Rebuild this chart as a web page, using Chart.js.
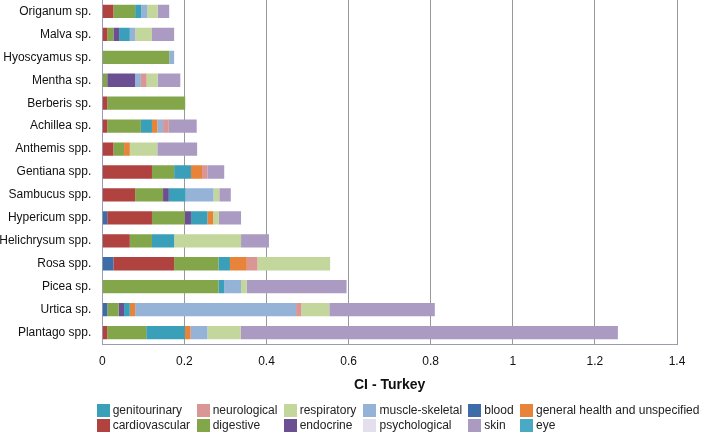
<!DOCTYPE html>
<html><head><meta charset="utf-8">
<script src="https://cdn.jsdelivr.net/npm/chart.js@4/dist/chart.umd.min.js"></script>
<style>
html,body{margin:0;padding:0;background:#fff;}
#wrap{position:relative;width:708px;height:433px;overflow:hidden;}
#legend{position:absolute;left:96.7px;top:403.5px;display:grid;grid-template-columns:100px 87px 79.8px 104.8px 51.7px auto;row-gap:1.5px;font:12px "Liberation Sans",Arial,sans-serif;color:#222;}
.li{display:flex;align-items:center;height:13.5px;white-space:nowrap;line-height:13.5px;}
.bx{width:13px;height:13.5px;margin-right:3px;flex:none;}
</style></head>
<body><div id="wrap"><canvas id="c" width="708" height="433"></canvas><div id="legend"></div></div>
<script>
const categories = ['Origanum sp.','Malva sp.','Hyoscyamus sp.','Mentha sp.','Berberis sp.','Achillea sp.','Anthemis spp.','Gentiana spp.','Sambucus spp.','Hypericum spp.','Helichrysum spp.','Rosa spp.','Picea sp.','Urtica sp.','Plantago spp.'];

const blood          = [0,     0,     0,     0,     0,     0,     0,     0,     0,     0.012, 0,     0.027, 0,     0.012, 0];
const cardiovascular = [0.027, 0.012, 0,     0,     0.012, 0.012, 0.027, 0.121, 0.080, 0.109, 0.067, 0.148, 0,     0,     0.012];
const digestive      = [0.053, 0.015, 0.163, 0.012, 0.190, 0.082, 0.026, 0.054, 0.068, 0.080, 0.054, 0.108, 0.283, 0.028, 0.095];
const endocrine      = [0,     0.014, 0,     0.068, 0,     0,     0,     0,     0.014, 0.015, 0,     0,     0,     0.013, 0];
const eye            = [0,     0,     0,     0,     0,     0,     0,     0,     0,     0,     0,     0,     0,     0,     0];
const genitourinary  = [0.015, 0.026, 0,     0,     0,     0.027, 0,     0.041, 0.041, 0.040, 0.054, 0.028, 0.014, 0.014, 0.094];
const generalHealth  = [0,     0,     0,     0,     0,     0.013, 0.014, 0.027, 0,     0.014, 0,     0.041, 0,     0.013, 0.014];
const muscleSkeletal = [0.014, 0.013, 0.012, 0.014, 0,     0.014, 0,     0,     0.068, 0,     0,     0,     0.041, 0.392, 0.041];
const neurological   = [0,     0,     0,     0.014, 0,     0.014, 0,     0.013, 0,     0,     0,     0.026, 0,     0.013, 0];
const psychological  = [0,     0,     0,     0,     0,     0,     0,     0,     0,     0,     0,     0,     0,     0,     0];
const respiratory    = [0.026, 0.041, 0,     0.027, 0,     0,     0.067, 0,     0.014, 0.014, 0.163, 0.177, 0.014, 0.068, 0.081];
const skin           = [0.028, 0.054, 0,     0.055, 0,     0.068, 0.097, 0.041, 0.028, 0.054, 0.068, 0,     0.243, 0.257, 0.919];

const xTickLabels = ['0','0.2','0.4','0.6','0.8','1','1.2','1.4'];
const axisTitle = 'CI - Turkey';

const seriesNames  = ['blood','cardiovascular','digestive','endocrine','eye','genitourinary','general health and unspecified','muscle-skeletal','neurological','psychological','respiratory','skin'];
const seriesValues = [blood, cardiovascular, digestive, endocrine, eye, genitourinary, generalHealth, muscleSkeletal, neurological, psychological, respiratory, skin];
const seriesColors = ['#3d6ca8','#b0423f','#84a64a','#6c4f92','#4aaac4','#3a9fb9','#e8833a','#95b3d7','#d99694','#e4dfec','#c3d69b','#ab9ac2'];
const legendOrder  = ['genitourinary','neurological','respiratory','muscle-skeletal','blood','general health and unspecified','cardiovascular','digestive','endocrine','psychological','skin','eye'];

Chart.defaults.font.family = '"Liberation Sans", Arial, sans-serif';
Chart.defaults.font.size = 12;

const datasets = seriesNames.map((n,i)=>({
  label:n, data:seriesValues[i], backgroundColor:seriesColors[i], borderWidth:0,
  barPercentage:0.58, categoryPercentage:1.0
}));

new Chart(document.getElementById('c'), {
  type:'bar',
  data:{labels:categories, datasets},
  options:{
    indexAxis:'y', responsive:false, animation:false, devicePixelRatio:1,
    layout:{padding:{left:0,right:31,top:0,bottom:34}},
    plugins:{legend:{display:false}, tooltip:{enabled:false}},
    scales:{
      x:{stacked:true, min:0, max:1.4,
        ticks:{stepSize:0.2, padding:10, color:'#111', font:{size:12},
          callback:(v,i)=>xTickLabels[i]},
        grid:{color:'#999999', drawTicks:false, lineWidth:1},
        border:{color:'#9b9bb5', width:1},
        title:{display:true, text:axisTitle, color:'#111', font:{size:14, weight:'bold'}, padding:{top:1,bottom:5.6}},
        afterFit:s=>{s.height=55;}
      },
      y:{stacked:true,
        grid:{display:false, drawTicks:false},
        border:{color:'#9b9bb5', width:1},
        ticks:{padding:11, color:'#111', font:{size:12}},
        afterFit:s=>{s.width=102.3; s.paddingTop=0; s.paddingBottom=0;}
      }
    }
  }
});

const lg = document.getElementById('legend');
legendOrder.forEach(name=>{
  const i = seriesNames.indexOf(name);
  const d = document.createElement('div'); d.className='li';
  const b = document.createElement('span'); b.className='bx'; b.style.background=seriesColors[i];
  const t = document.createElement('span'); t.textContent=name;
  d.appendChild(b); d.appendChild(t); lg.appendChild(d);
});
</script>
</body></html>
